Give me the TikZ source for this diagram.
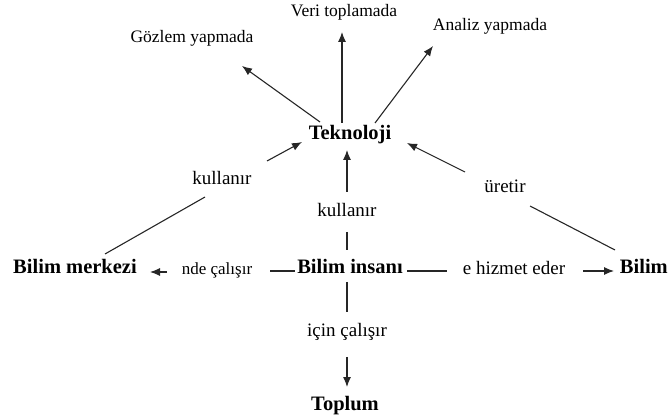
\documentclass[tikz,border=0pt]{standalone}
\usepackage{fontspec}
\setmainfont{Liberation Serif}
\usetikzlibrary{arrows.meta}
\begin{document}
\begin{tikzpicture}[x=1pt,y=-1pt,
  lab/.style={font=\fontsize{19}{21}\selectfont, inner sep=0pt, anchor=base},
  smalllab/.style={font=\fontsize{17}{19}\selectfont, inner sep=0pt, anchor=base},
  toplab/.style={font=\fontsize{17.5}{19}\selectfont, inner sep=0pt, anchor=base},
  key/.style={font=\fontsize{20.5}{22}\selectfont\bfseries, inner sep=0pt, anchor=base},
  conn/.style={draw=black!85, line width=1.1pt},
  arr/.style={conn, -{Latex[length=10pt,width=8pt]}}]
\useasboundingbox (0,0) rectangle (669,419);

% main nodes
\node[key] (tek) at (350,140) {Teknoloji};
\node[toplab] (veri) at (344,16.7) {Veri toplamada};
\node[toplab] (gozlem) at (192,43) {Gözlem yapmada};
\node[toplab] (analiz) at (490,31) {Analiz yapmada};
\node[key] (bm) at (75,274) {Bilim merkezi};
\node[key] (bi) at (350,274) {Bilim insanı};
\node[key, anchor=base east] (bilim) at (668,274) {Bilim};
\node[key] (toplum) at (345,410) {Toplum};

% labels
\node[lab] (k1) at (222,185) {kullanır};
\node[lab] (k2) at (347,217) {kullanır};
\node[lab] (ur) at (505,193) {üretir};
\node[smalllab] (nde) at (217,275) {nde çalışır};
\node[lab] (hiz) at (514,275) {e hizmet eder};
\node[lab] (icin) at (347,337) {için çalışır};

% connector end points
\coordinate (g0) at (320,122); \coordinate (g1) at (242,66);
\coordinate (v0) at (342,123); \coordinate (v1) at (342,32);
\coordinate (a0) at (375,123); \coordinate (a1) at (433,46);
\coordinate (l0) at (105,254); \coordinate (l1) at (205,197);
\coordinate (l2) at (267,161); \coordinate (l3) at (302,142);
\coordinate (m0) at (347,232); \coordinate (m1) at (347,250);
\coordinate (m2) at (347,192); \coordinate (m3) at (347,150);
\coordinate (r0) at (615,250); \coordinate (r1) at (530,206);
\coordinate (r2) at (465,172); \coordinate (r3) at (407,143);
\coordinate (h0) at (167,272); \coordinate (h1) at (150,272);
\coordinate (h2) at (270,271); \coordinate (h3) at (295,271);
\coordinate (h4) at (407,271); \coordinate (h5) at (447,271);
\coordinate (h6) at (583,271); \coordinate (h7) at (614,271);
\coordinate (b0) at (347,282); \coordinate (b1) at (347,312);
\coordinate (b2) at (347,357); \coordinate (b3) at (347,387);

% connectors
\draw[arr] (g0) -- (g1);
\draw[arr] (v0) -- (v1);
\draw[arr] (a0) -- (a1);
\draw[conn] (l0) -- (l1);
\draw[arr] (l2) -- (l3);
\draw[conn] (m0) -- (m1);
\draw[arr] (m2) -- (m3);
\draw[conn] (r0) -- (r1);
\draw[arr] (r2) -- (r3);
\draw[arr] (h0) -- (h1);
\draw[conn] (h2) -- (h3);
\draw[conn] (h4) -- (h5);
\draw[arr] (h6) -- (h7);
\draw[conn] (b0) -- (b1);
\draw[arr] (b2) -- (b3);
\end{tikzpicture}
\end{document}
